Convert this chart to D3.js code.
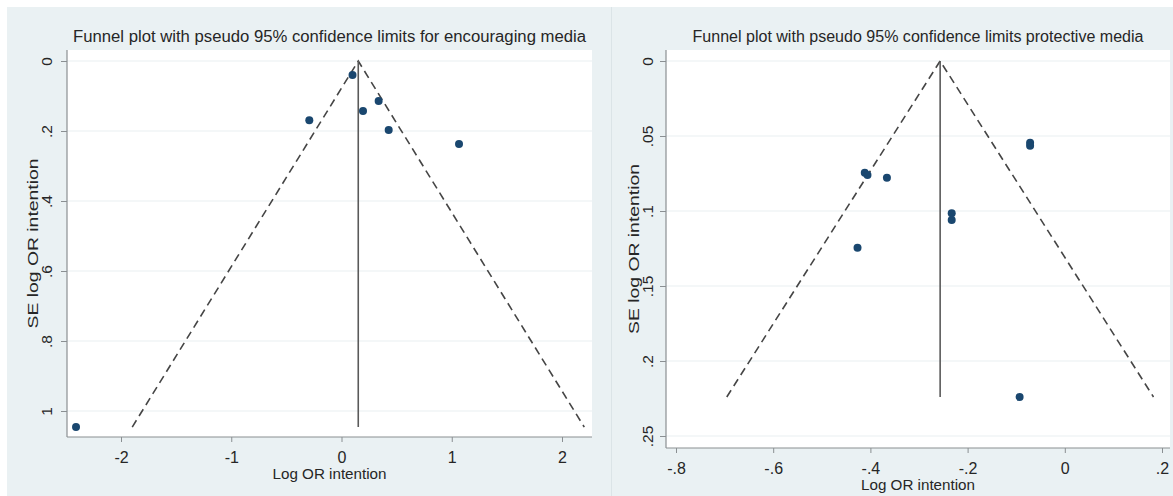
<!DOCTYPE html>
<html>
<head>
<meta charset="utf-8">
<script src="https://cdn.jsdelivr.net/npm/d3@7"></script>
<style>
  body { margin: 0; background: #fff; }
  svg { display: block; font-family: "Liberation Sans", Arial, sans-serif; }
</style>
</head>
<body>
<svg id="chart" width="1173" height="496"></svg>
<script>
// encouraging media
var encLogOR = [0.10, 0.337, 0.195, -0.292, 0.428, 1.066, -2.408];
var encSE = [0.040, 0.114, 0.143, 0.169, 0.197, 0.237, 1.046];
var encPooled = 0.152;
var encXTicks = [-2, -1, 0, 1, 2];
var encXLabels = ["-2", "-1", "0", "1", "2"];
var encYTicks = [0, 0.2, 0.4, 0.6, 0.8, 1];
var encYLabels = ["0", ".2", ".4", ".6", ".8", "1"];

// protective media
var protLogOR = [-0.0714, -0.0714, -0.4116, -0.406, -0.366, -0.2327, -0.2327, -0.4265, -0.093];
var protSE = [0.0545, 0.0565, 0.0745, 0.076, 0.0778, 0.1015, 0.106, 0.1245, 0.224];
var protPooled = -0.2565;
var protXTicks = [-0.8, -0.6, -0.4, -0.2, 0, 0.2];
var protXLabels = ["-.8", "-.6", "-.4", "-.2", "0", ".2"];
var protYTicks = [0, 0.05, 0.1, 0.15, 0.2, 0.25];
var protYLabels = ["0", ".05", ".1", ".15", ".2", ".25"];

var svg = d3.select("#chart");

// background panels
svg.append("rect").attr("x", 7).attr("y", 7).attr("width", 604).attr("height", 489).attr("fill", "#eaf1f3");
svg.append("rect").attr("x", 612).attr("y", 7).attr("width", 561).attr("height", 489).attr("fill", "#eaf1f3");
svg.append("line").attr("x1", 611.5).attr("x2", 611.5).attr("y1", 7).attr("y2", 496)
    .attr("stroke", "#dbe4e7").attr("stroke-width", 1);

function funnel(p) {
    var x = d3.scaleLinear().domain(p.xDom).range(p.xRange);
    var y = d3.scaleLinear().domain(p.yDom).range(p.yRange);
    var g = svg.append("g");

    g.append("rect")
        .attr("x", p.left).attr("y", p.top)
        .attr("width", p.right - p.left).attr("height", p.bottom - p.top)
        .attr("fill", "#fff");

    // grid
    g.selectAll(".grid").data(p.yTicks).enter().append("line")
        .attr("x1", p.left).attr("x2", p.right)
        .attr("y1", function (d) { return y(d); })
        .attr("y2", function (d) { return y(d); })
        .attr("stroke", "#e9eff1").attr("stroke-width", 1);

    // axis lines
    g.append("line").attr("x1", p.left).attr("x2", p.left).attr("y1", p.top).attr("y2", p.bottom)
        .attr("stroke", "#8a8f92").attr("stroke-width", 1.2);
    g.append("line").attr("x1", p.left).attr("x2", p.right).attr("y1", p.bottom).attr("y2", p.bottom)
        .attr("stroke", "#8a8f92").attr("stroke-width", 1.2);

    var yAxis = g.append("g")
        .attr("transform", "translate(" + p.left + ",0)")
        .call(d3.axisLeft(y).tickValues(p.yTicks).tickSize(6)
            .tickFormat(function (d, i) { return p.yLabels[i]; }));
    yAxis.select(".domain").remove();
    yAxis.selectAll(".tick line").attr("stroke", "#8a8f92");
    yAxis.selectAll(".tick text")
        .attr("transform", "rotate(-90)")
        .attr("x", 0).attr("y", -p.yLabelOff).attr("dy", "0.35em")
        .attr("text-anchor", "middle")
        .attr("font-size", 15.5).attr("fill", "#262626");

    var xAxis = g.append("g")
        .attr("transform", "translate(0," + p.bottom + ")")
        .call(d3.axisBottom(x).tickValues(p.xTicks).tickSize(5).tickPadding(10)
            .tickFormat(function (d, i) { return p.xLabels[i]; }));
    xAxis.select(".domain").remove();
    xAxis.selectAll(".tick line").attr("stroke", "#8a8f92");
    xAxis.selectAll(".tick text").attr("font-size", 16).attr("fill", "#262626");

    // pseudo 95% limits
    var seMax = d3.max(p.se);
    var lim = [
        [[p.pooled - 1.96 * seMax, seMax], [p.pooled, 0], [p.pooled + 1.96 * seMax, seMax]]
    ];
    var line = d3.line()
        .x(function (d) { return x(d[0]); })
        .y(function (d) { return y(d[1]); });
    g.selectAll(".lim").data(lim).enter().append("path")
        .attr("d", line)
        .attr("fill", "none").attr("stroke", "#454545")
        .attr("stroke-width", 1.6).attr("stroke-dasharray", "8,5");

    g.append("line")
        .attr("x1", x(p.pooled)).attr("x2", x(p.pooled))
        .attr("y1", y(0)).attr("y2", y(seMax))
        .attr("stroke", "#5a5a5a").attr("stroke-width", 1.6);

    g.selectAll(".pt").data(p.est).enter().append("circle")
        .attr("cx", function (d) { return x(d); })
        .attr("cy", function (d, i) { return y(p.se[i]); })
        .attr("r", 4)
        .attr("fill", "#1a476f");

    g.append("text")
        .attr("x", (p.left + p.right) / 2).attr("y", 42)
        .attr("text-anchor", "middle").attr("font-size", 16).attr("fill", "#262626")
        .attr("textLength", p.titleLen).attr("lengthAdjust", "spacingAndGlyphs")
        .text(p.title);

    g.append("text")
        .attr("x", (p.left + p.right) / 2).attr("y", p.bottom + 37).attr("dy", "0.35em")
        .attr("text-anchor", "middle").attr("font-size", 15).attr("fill", "#262626")
        .attr("textLength", 114).attr("lengthAdjust", "spacingAndGlyphs")
        .text("Log OR intention");

    g.append("text")
        .attr("transform", "translate(" + p.yTitleX + "," + (p.top + p.bottom) / 2 + ") rotate(-90)")
        .attr("dy", "0.35em")
        .attr("text-anchor", "middle").attr("font-size", 15.5).attr("fill", "#262626")
        .attr("textLength", 170).attr("lengthAdjust", "spacingAndGlyphs")
        .text("SE log OR intention");
}

funnel({
    est: encLogOR, se: encSE, pooled: encPooled,
    xTicks: encXTicks, xLabels: encXLabels, yTicks: encYTicks, yLabels: encYLabels,
    xDom: [-2, 2], xRange: [121, 562], yDom: [0, 1], yRange: [61, 411],
    left: 67, right: 592, top: 50, bottom: 437,
    yLabelOff: 20, yTitleX: 33, titleLen: 513,
    title: "Funnel plot with pseudo 95% confidence limits for encouraging media"
});

funnel({
    est: protLogOR, se: protSE, pooled: protPooled,
    xTicks: protXTicks, xLabels: protXLabels, yTicks: protYTicks, yLabels: protYLabels,
    xDom: [-0.8, 0.2], xRange: [676, 1162], yDom: [0, 0.25], yRange: [61, 436],
    left: 666, right: 1170, top: 50, bottom: 448,
    yLabelOff: 18, yTitleX: 634, titleLen: 451,
    title: "Funnel plot with pseudo 95% confidence limits protective media"
});
</script>
</body>
</html>
